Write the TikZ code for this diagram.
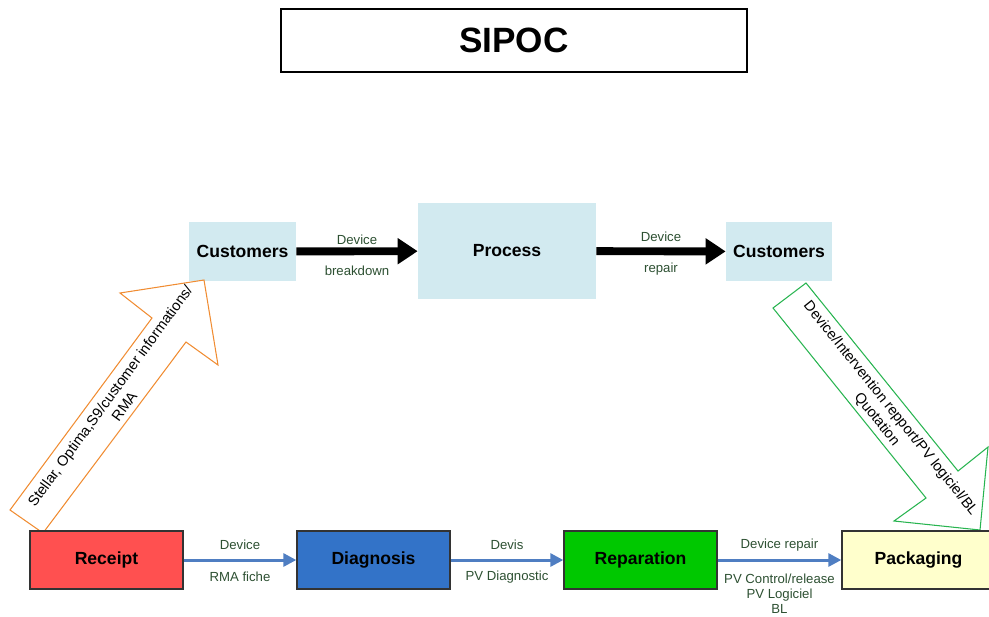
\documentclass[tikz,border=0pt]{standalone}
\usepackage{fontspec}
\setmainfont{Liberation Sans}
\usetikzlibrary{arrows.meta}
\definecolor{custblue}{RGB}{210,234,240}
\definecolor{receiptred}{RGB}{255,80,80}
\definecolor{diagblue}{RGB}{51,115,200}
\definecolor{repgreen}{RGB}{0,200,0}
\definecolor{packyellow}{RGB}{255,255,204}
\definecolor{flowblue}{RGB}{79,126,194}
\definecolor{lblgreen}{RGB}{45,80,50}
\definecolor{inorange}{RGB}{240,140,50}
\definecolor{outgreen}{RGB}{40,180,80}
\begin{document}
\begin{tikzpicture}[x=0.02cm,y=-0.02cm,
  topbox/.style={fill=custblue,font=\bfseries\fontsize{10}{12}\selectfont,minimum height=1.18cm},
  stepbox/.style={draw=black!80,line width=0.8pt,font=\bfseries\fontsize{10}{12}\selectfont,minimum width=3.06cm,minimum height=1.16cm},
  flowtop/.style={line width=4.5pt,-{Triangle[length=0.4cm,width=0.5cm]}},
  flowbottom/.style={draw=flowblue,line width=1.7pt,-{Triangle[length=0.26cm,width=0.26cm]}},
  lbl/.style={text=lblgreen,font=\fontsize{7.5}{8.5}\selectfont,align=center},
  bigarrow/.style={line width=0.6pt,line join=miter},
  arrowtext/.style={align=center,font=\fontsize{8.3}{10}\selectfont}]
\useasboundingbox (0,0) rectangle (989,616);
\clip (0,0) rectangle (989,616);
\node[draw,line width=0.8pt,minimum width=9.32cm,minimum height=1.26cm,font=\bfseries\fontsize{20}{24}\selectfont] (title) at (514,40.5) {SIPOC};
\node[topbox,minimum width=2.14cm] (supplier) at (242.5,251.5) {Customers};
\node[topbox,minimum width=3.56cm,minimum height=1.92cm] (process) at (507,251) {Process};
\node[topbox,minimum width=2.12cm] (customer) at (779,251.5) {Customers};
\draw[flowtop] (supplier) -- node[midway,lbl,yshift=0.24cm] {Device} node[midway,lbl,yshift=-0.4cm] {breakdown} (process);
\draw[flowtop] (process) -- node[midway,lbl,yshift=0.3cm] {Device} node[midway,lbl,yshift=-0.36cm] {repair} (customer);
\draw[bigarrow,draw=inorange] (10,510) -- (152,318) -- (120,293) -- (204,280) -- (218,365) -- (186,342) -- (43,533) -- cycle;
\draw[bigarrow,draw=outgreen] (806,283) -- (958,471) -- (988,447) -- (980,530) -- (894,521) -- (926,498) -- (773,308) -- cycle;
\node[arrowtext,rotate=54] (inputtext) at (117,401) {Stellar, Optima,S9/customer informations/\\RMA};
\node[arrowtext,rotate=-51.3] (outputtext) at (883.5,414) {Device/Intervention repport/PV logiciel/BL\\Quotation};
\node[stepbox,fill=receiptred] (receipt) at (106.5,560) {Receipt};
\node[stepbox,fill=diagblue] (diagnosis) at (373.5,560) {Diagnosis};
\node[stepbox,fill=repgreen] (reparation) at (640.5,560) {Reparation};
\node[stepbox,fill=packyellow] (packaging) at (918.5,560) {Packaging};
\draw[flowbottom] (receipt) -- node[midway,lbl,yshift=0.3cm] {Device} node[midway,lbl,yshift=-0.34cm] {RMA fiche} (diagnosis);
\draw[flowbottom] (diagnosis) -- node[midway,lbl,yshift=0.3cm] {Devis} node[midway,lbl,yshift=-0.34cm] {PV Diagnostic} (reparation);
\draw[flowbottom] (reparation) -- node[midway,lbl,yshift=0.3cm] {Device repair} node[midway,lbl,yshift=-0.68cm] {PV Control/release\\PV Logiciel\\BL} (packaging);
\end{tikzpicture}
\end{document}
